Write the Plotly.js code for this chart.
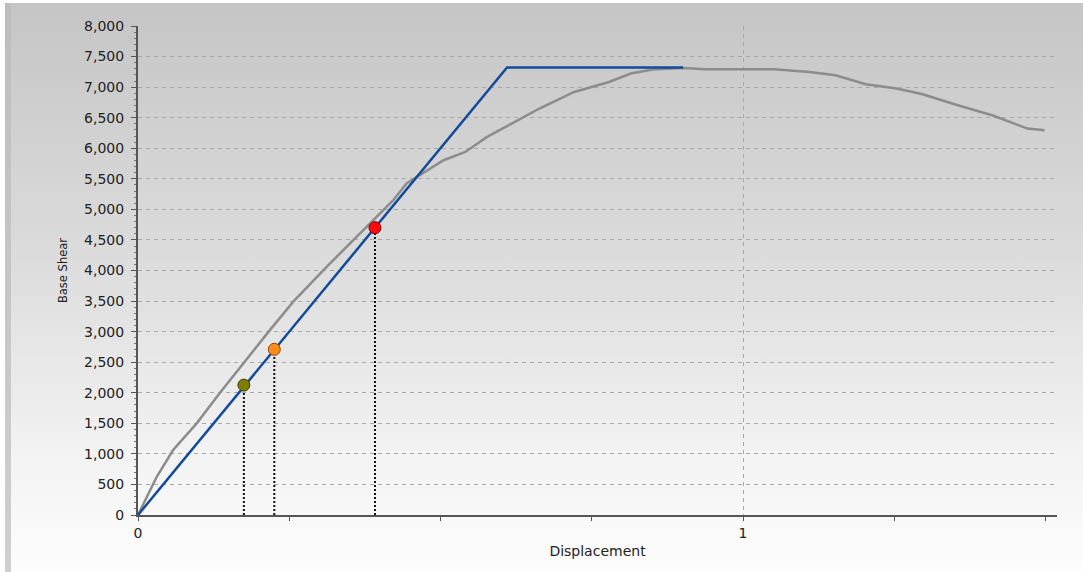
<!DOCTYPE html>
<html>
<head>
<meta charset="utf-8">
<script src="https://cdn.plot.ly/plotly-3.0.1.min.js"></script>
<style>
  html, body { margin: 0; padding: 0; background: #ffffff; }
  #wrap { position: relative; width: 1083px; height: 572px; overflow: hidden; background: #ffffff; }
  #panel { position: absolute; left: 5px; top: 3px; right: 0; bottom: 0;
           background: linear-gradient(to bottom, #c5c5c5 0%, #dcdcdc 45%, #f3f3f3 80%, #fdfdfd 100%); }
  #stripe { position: absolute; left: 5px; top: 3px; width: 6px; bottom: 0;
           background: linear-gradient(to bottom, #bdbdbd 0%, #cfcfcf 100%); }
  #chart { position: absolute; left: 0; top: 0; width: 1083px; height: 572px; }
</style>
</head>
<body>
<div id="wrap">
  <div id="panel"></div>
  <div id="stripe"></div>
  <div id="chart"></div>
</div>
<script>
// Pushover curve (gray)
const pushX = [0, 0.0143, 0.031, 0.058, 0.097, 0.1355, 0.152, 0.218, 0.2567, 0.285, 0.3117, 0.367, 0.422, 0.4438, 0.4618, 0.5051, 0.541, 0.577, 0.613, 0.6635, 0.721, 0.7785, 0.8145, 0.8506, 0.901, 0.937, 1.052, 1.110, 1.153, 1.203, 1.254, 1.297, 1.355, 1.412, 1.470, 1.4985];
const pushY = [0, 300, 626, 1063, 1499, 2000, 2207, 3025, 3490, 3790, 4060, 4606, 5150, 5423, 5531, 5804, 5940, 6185, 6377, 6650, 6921, 7084, 7222, 7287, 7313, 7292, 7292, 7248, 7194, 7047, 6977, 6884, 6704, 6540, 6322, 6295];

// Bilinear idealisation (blue)
const biX = [0, 0.610, 0.901];
const biY = [0, 7320, 7320];

// Performance points
const ptX = [0.175, 0.2253, 0.3917];
const ptY = [2125, 2710, 4700];
const ptColors = ['#7d7d00', '#ff8c1a', '#ff0a0a'];
const ptEdges = ['#3f3f00', '#8a4a00', '#7a0000'];

// Axis ticks
const xTickVals = [0, 1];
const xTickText = ['0', '1'];

const traces = [];
traces.push({
  x: pushX, y: pushY, type: 'scatter', mode: 'lines',
  line: { color: '#8c8c8c', width: 2.5 }, hoverinfo: 'skip', showlegend: false
});
traces.push({
  x: biX, y: biY, type: 'scatter', mode: 'lines',
  line: { color: '#144a9a', width: 2.5 }, hoverinfo: 'skip', showlegend: false
});
for (let i = 0; i < ptX.length; i++) {
  traces.push({
    x: [ptX[i], ptX[i]], y: [0, ptY[i]], type: 'scatter', mode: 'lines',
    line: { color: '#111111', width: 2, dash: '2px,2px' }, hoverinfo: 'skip', showlegend: false
  });
}
traces.push({
  x: ptX, y: ptY, type: 'scatter', mode: 'markers',
  marker: { color: ptColors, size: 12, line: { color: ptEdges, width: 1 } },
  hoverinfo: 'skip', showlegend: false
});

const tickFont = { family: 'DejaVu Sans, Verdana, sans-serif', size: 14, color: '#222222' };

const layout = {
  width: 1083, height: 572,
  margin: { l: 138, r: 26, t: 26, b: 57, autoexpand: false },
  paper_bgcolor: 'rgba(0,0,0,0)',
  plot_bgcolor: 'rgba(0,0,0,0)',
  showlegend: false,
  xaxis: {
    range: [0, 1.519],
    tickmode: 'array', tickvals: xTickVals, ticktext: xTickText,
    ticks: 'outside', ticklen: 4, tickcolor: '#555555', tickwidth: 1,
    showgrid: true, gridcolor: '#a8a8a8', gridwidth: 1, griddash: '4px,4px',
    minor: { dtick: 0.25, tick0: 0, ticks: 'outside', ticklen: 4, tickcolor: '#555555', showgrid: false },
    showline: true, linecolor: '#555555', linewidth: 2,
    zeroline: false,
    tickfont: tickFont,
    title: { text: 'Displacement', font: { family: 'DejaVu Sans, Verdana, sans-serif', size: 14, color: '#222222' }, standoff: 6 },
    fixedrange: true
  },
  yaxis: {
    range: [0, 8000],
    dtick: 500, tick0: 0, tickformat: ',d',
    ticks: 'outside', ticklen: 5, tickcolor: '#555555', tickwidth: 1,
    showgrid: true, gridcolor: '#a8a8a8', gridwidth: 1, griddash: '4px,4px',
    minor: { dtick: 100, ticks: 'outside', ticklen: 2, tickcolor: '#777777', showgrid: false },
    showline: true, linecolor: '#555555', linewidth: 2,
    zeroline: false,
    tickfont: tickFont,
    ticklabelstandoff: 4,
    title: { text: 'Base Shear', font: { family: 'DejaVu Sans, Verdana, sans-serif', size: 11.5, color: '#222222' }, standoff: 14 },
    fixedrange: true
  }
};

Plotly.newPlot('chart', traces, layout, { displayModeBar: false, staticPlot: true });
</script>
</body>
</html>
